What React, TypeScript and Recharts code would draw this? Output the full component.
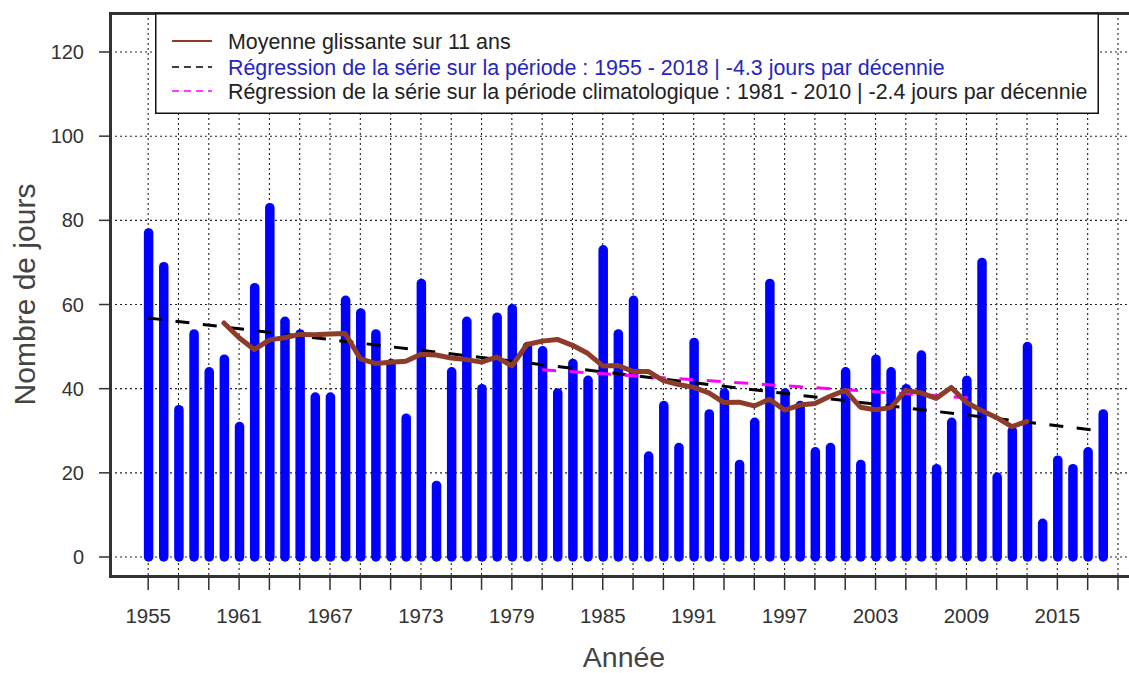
import React from 'react';
import { ComposedChart, Bar, Line, XAxis, YAxis, CartesianGrid } from 'recharts';

const years: number[] = [
  1955, 1956, 1957, 1958, 1959, 1960, 1961, 1962, 1963, 1964, 1965, 1966, 1967, 1968, 1969, 1970,
  1971, 1972, 1973, 1974, 1975, 1976, 1977, 1978, 1979, 1980, 1981, 1982, 1983, 1984, 1985, 1986,
  1987, 1988, 1989, 1990, 1991, 1992, 1993, 1994, 1995, 1996, 1997, 1998, 1999, 2000, 2001, 2002,
  2003, 2004, 2005, 2006, 2007, 2008, 2009, 2010, 2011, 2012, 2013, 2014, 2015, 2016, 2017, 2018,
];

const days: number[] = [
  77, 69, 35, 53, 44, 47, 31, 64, 83, 56, 53, 38, 38, 61, 58, 53,
  46, 33, 65, 17, 44, 56, 40, 57, 59, 50, 49, 39, 46, 42, 73, 53,
  61, 24, 36, 26, 51, 34, 39, 22, 32, 65, 39, 36, 25, 26, 44, 22,
  47, 44, 40, 48, 21, 32, 42, 70, 19, 30, 50, 8, 23, 21, 25, 34,
];

// 11-year moving average, 1960 - 2013
const maYears: number[] = [
  1960, 1961, 1962, 1963, 1964, 1965, 1966, 1967, 1968, 1969, 1970, 1971, 1972, 1973, 1974, 1975,
  1976, 1977, 1978, 1979, 1980, 1981, 1982, 1983, 1984, 1985, 1986, 1987, 1988, 1989, 1990, 1991,
  1992, 1993, 1994, 1995, 1996, 1997, 1998, 1999, 2000, 2001, 2002, 2003, 2004, 2005, 2006, 2007,
  2008, 2009, 2010, 2011, 2012, 2013,
];
const maValues: number[] = [
  55.6, 52.1, 49.3, 51.6, 52.1, 52.9, 52.8, 53.0, 53.1, 47.1, 46.0, 46.3, 46.5, 48.2, 48.0, 47.3,
  46.9, 46.3, 47.5, 45.4, 50.5, 51.3, 51.7, 50.3, 48.4, 45.4, 45.5, 44.1, 44.1, 41.9, 41.0, 40.3,
  39.0, 36.7, 36.8, 35.9, 37.5, 34.9, 36.1, 36.5, 38.2, 39.6, 35.6, 35.0, 35.5, 39.6, 39.0, 37.7,
  40.3, 36.7, 34.8, 33.1, 31.0, 32.2,
];

// Regression lines (end points)
const regAllYears: number[] = [1955, 2018];
const regAllValues: number[] = [56.8, 29.9];
const regClimYears: number[] = [1981, 2010];
const regClimValues: number[] = [44.5, 37.6];

const yTicks: number[] = [0, 20, 40, 60, 80, 100, 120];
const xTickYears: number[] = [
  1955, 1957, 1959, 1961, 1963, 1965, 1967, 1969, 1971, 1973, 1975, 1977, 1979, 1981, 1983, 1985, 1987,
  1989, 1991, 1993, 1995, 1997, 1999, 2001, 2003, 2005, 2007, 2009, 2011, 2013, 2015, 2017, 2019,
];
const xLabelYears: number[] = [1955, 1961, 1967, 1973, 1979, 1985, 1991, 1997, 2003, 2009, 2015];

const legendLabels: string[] = [
  'Moyenne glissante sur 11 ans',
  'Régression de la série sur la période : 1955 - 2018 | -4.3 jours par décennie',
  'Régression de la série sur la période climatologique : 1981 - 2010 | -2.4 jours par décennie',
];

const data = years.map((yr, i) => {
  const mi = maYears.indexOf(yr);
  const ri = regAllYears.indexOf(yr);
  const ci = regClimYears.indexOf(yr);
  return {
    year: yr,
    days: days[i],
    ma: mi >= 0 ? maValues[mi] : null,
    reg: ri >= 0 ? regAllValues[ri] : null,
    clim: ci >= 0 ? regClimValues[ci] : null,
  };
});

const FONT = '"Liberation Sans", Arial, sans-serif';
const BROWN = '#8C3C28';

const BarShape = (props: any) => {
  const { x, y, width, height } = props;
  if (x == null || y == null) return null;
  const cx = x + width / 2;
  return (
    <line
      x1={cx}
      x2={cx}
      y1={y + height}
      y2={y}
      stroke="#0000FF"
      strokeWidth={9.5}
      strokeLinecap="round"
    />
  );
};

const XTick = (props: any) => {
  const { x, y, payload } = props;
  const v = payload.value;
  return (
    <g>
      <line x1={x} x2={x} y1={y + 2} y2={y + 14} stroke="#333" strokeWidth={1.5} />
      {xLabelYears.includes(v) && (
        <text x={x} y={y + 47} textAnchor="middle" fontSize={20.5} fill="#333" fontFamily={FONT}>
          {v}
        </text>
      )}
    </g>
  );
};

const App = () => {
  return (
    <div
      style={{
        position: 'absolute',
        left: 0,
        top: 0,
        width: 1129,
        height: 673,
        overflow: 'hidden',
        background: '#fff',
        fontFamily: FONT,
      }}
    >
      <ComposedChart
        width={1160}
        height={673}
        data={data}
        margin={{ top: 13, right: 19, bottom: 0, left: 0 }}
        style={{ fontFamily: FONT }}
      >
        <CartesianGrid stroke="#222" strokeDasharray="2 3" strokeWidth={1.1} />
        <XAxis
          dataKey="year"
          type="number"
          domain={[1952.48, 2020.52]}
          allowDataOverflow
          ticks={xTickYears}
          interval={0}
          height={97}
          axisLine={false}
          tickLine={false}
          tickSize={0}
          tickMargin={0}
          tick={<XTick />}
          label={{
            content: () => (
              <text x={624} y={667} textAnchor="middle" fontSize={28.5} fill="#444" fontFamily={FONT}>
                Année
              </text>
            ),
          }}
        />
        <YAxis
          type="number"
          domain={[-4.515, 129.27]}
          allowDataOverflow
          ticks={yTicks}
          interval={0}
          width={110}
          axisLine={false}
          tickSize={11}
          tickMargin={15}
          tickLine={{ stroke: '#333', strokeWidth: 1.5 }}
          tick={{ fontSize: 20, fill: '#333', fontFamily: FONT }}
          label={{
            content: () => (
              <text
                x={35}
                y={294.5}
                transform="rotate(-90, 35, 294.5)"
                textAnchor="middle"
                fontSize={30}
                fill="#444"
                fontFamily={FONT}
              >
                Nombre de jours
              </text>
            ),
          }}
        />
        <Bar dataKey="days" barSize={10} shape={<BarShape />} isAnimationActive={false} />
        <Line
          dataKey="reg"
          stroke="#000"
          strokeWidth={3}
          strokeDasharray="14 13.5"
          dot={false}
          connectNulls
          isAnimationActive={false}
        />
        <Line
          dataKey="clim"
          stroke="#FF00FF"
          strokeWidth={3}
          strokeDasharray="14 13.5"
          dot={false}
          connectNulls
          isAnimationActive={false}
        />
        <Line
          dataKey="ma"
          stroke={BROWN}
          strokeWidth={5}
          strokeLinecap="round"
          strokeLinejoin="round"
          dot={false}
          isAnimationActive={false}
        />
      </ComposedChart>
      {/* plot frame */}
      <div
        style={{
          position: 'absolute',
          left: 108.5,
          top: 11.5,
          width: 1141 - 110 + 3,
          height: 576 - 13 + 3,
          border: '3px solid #333',
          boxSizing: 'border-box',
          pointerEvents: 'none',
        }}
      />
      {/* legend */}
      <svg
        width={944}
        height={101}
        style={{ position: 'absolute', left: 155, top: 13, background: '#fff' }}
      >
        <rect x={0.75} y={0.75} width={942.5} height={99.5} fill="#fff" stroke="#111" strokeWidth={1.5} />
        <line x1={17} x2={57} y1={28} y2={28} stroke={BROWN} strokeWidth={2} />
        <line x1={17} x2={57} y1={54} y2={54} stroke="#000" strokeWidth={1.5} strokeDasharray="7 5" />
        <line x1={17} x2={57} y1={78} y2={78} stroke="#FF00FF" strokeWidth={1.5} strokeDasharray="7 5" />
        <text x={73} y={35.5} fontSize={21.4} fill="#222" fontFamily={FONT}>
          {legendLabels[0]}
        </text>
        <text x={73} y={61.5} fontSize={21.4} fill="#2525C0" fontFamily={FONT}>
          {legendLabels[1]}
        </text>
        <text x={73} y={85.5} fontSize={21.4} fill="#222" fontFamily={FONT}>
          {legendLabels[2]}
        </text>
      </svg>
    </div>
  );
};

export default App;
